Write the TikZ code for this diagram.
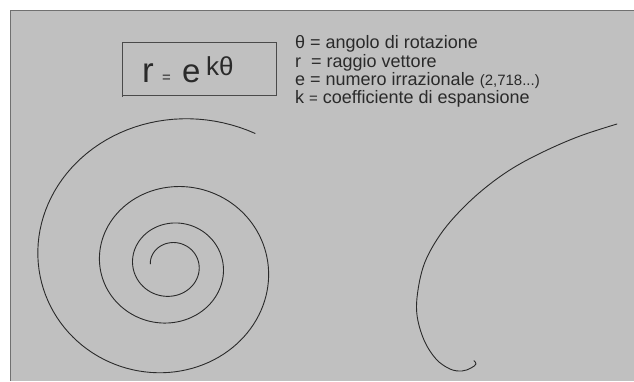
\documentclass[tikz,border=0pt]{standalone}
\usepackage{fontspec}
\setmainfont{Liberation Sans}
\usepackage{tikz}
\usetikzlibrary{calc}
\definecolor{panel}{HTML}{C0C0C0}
\definecolor{edge}{HTML}{707070}
\definecolor{ink}{HTML}{2A2A2A}
\tikzset{curve/.style={ink,line width=0.9pt,line cap=round,line join=round},
  txt/.style={anchor=base west,inner sep=0pt,text=ink},
  legendline/.style={txt,font=\fontsize{18}{18}\selectfont}}

\begin{document}
\begin{tikzpicture}[x=1pt,y=-1pt]
  \useasboundingbox (0,0) rectangle (634,381);
  \fill[white] (0,0) rectangle (634,381);
  \fill[panel] (10,10) rectangle (634,381);
  \draw[edge,line width=1.2pt] (10.6,381) -- (10.6,10.6) -- (634,10.6);
  % formula in its frame
  \draw[ink!85,line width=0.9pt] (122.7,95) rectangle (276.7,42.3);
  \draw[ink!85,line width=0.9pt] (122.7,95) -- (122.7,97);
  \node[txt,font=\fontsize{35}{35}\selectfont] (fr) at (142,82) {r};
  \node[txt,font=\fontsize{15}{15}\selectfont] (feq) at (162,82) {=};
  \node[txt,font=\fontsize{33}{33}\selectfont] (fe) at (182,82) {e};
  \node[txt,font=\fontsize{26}{26}\selectfont] (fexp) at (206,75) {kθ};
  % legend
  \node[legendline] (lth) at (295,48.8) {θ = angolo di rotazione};
  \node[legendline] (lr) at (295,67) {r \ = raggio vettore};
  \node[legendline] (le) at (295,85.2) {e = numero irrazionale {\fontsize{15}{15}\selectfont(2,718...)}};
  \node[legendline] (lk) at (295,103.4) {k {\fontsize{15}{15}\selectfont=} coefficiente di espansione};
  % left spiral, r = a e^{k theta}
  \draw[curve] plot[domain=176:-1021,samples=400,variable=\t]
    ({171+1.04*27*exp(-0.00172*\t)*cos(\t)},{265.3-0.98*27*exp(-0.00172*\t)*sin(\t)});
  % right spiral, only the outer part
  \draw[curve] plot[smooth,tension=0.6] coordinates {(474,360.7) (476,364) (471,368) (462,371)
    (450,369) (436,359) (424,340) (417,315) (418,290) (425,262) (440,235) (460,211)
    (485,188) (513,168) (545,151) (580,136) (617,124)};
\end{tikzpicture}
\end{document}
